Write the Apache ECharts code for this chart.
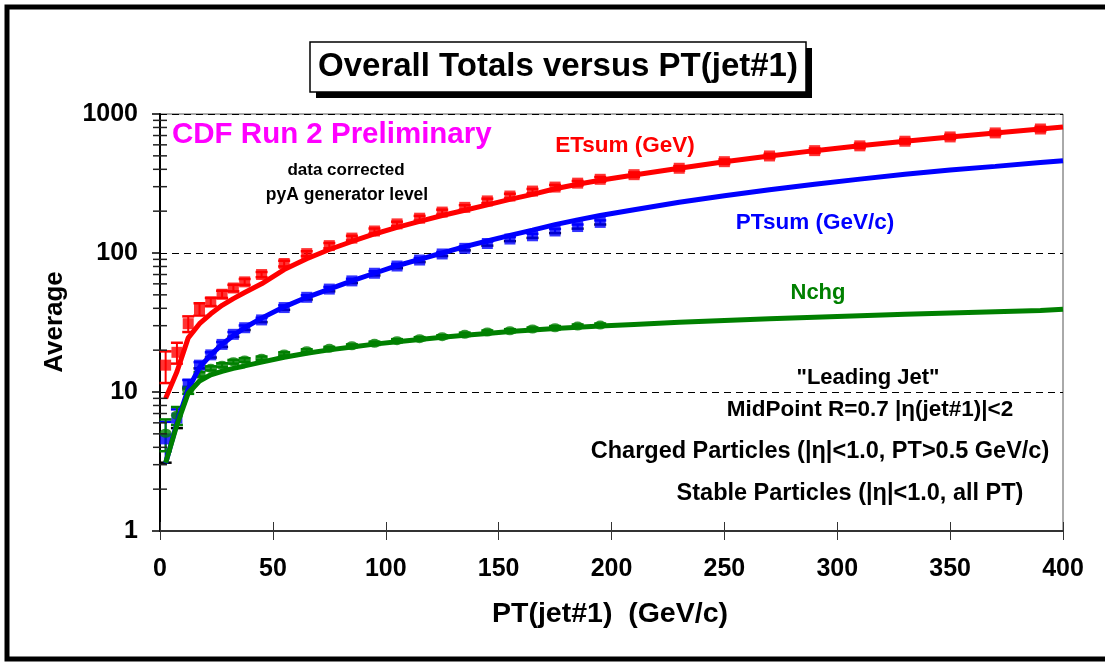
<!DOCTYPE html>
<html><head><meta charset="utf-8">
<script src="https://cdn.jsdelivr.net/npm/echarts/dist/echarts.min.js"></script>
<style>html,body{margin:0;padding:0;background:#fff}#c{width:1105px;height:663px}</style>
</head><body><div id="c"></div><script>
// PT(jet#1) bin centres (GeV/c)
const ptBins = [2.5, 7.5, 12.5, 17.5, 22.5, 27.5, 32.5, 37.5, 45, 55, 65, 75, 85, 95, 105, 115, 125, 135, 145, 155, 165, 175, 185, 195, 210, 230, 250, 270, 290, 310, 330, 350, 370, 390];
// data (corrected)
const etsumData = [15.6, 19.3, 31, 39.5, 44.5, 50.5, 56, 62, 70, 84, 99, 113, 128, 144, 162, 178, 197, 213, 237, 257, 279, 298, 318, 339, 366, 407, 454, 499, 545, 590, 637, 684, 731, 780];
const etsumErr = [4, 3.3, 4, 4, 3, 3, 3, 3, 3, 4, 4, 5, 5, 6, 6, 7, 8, 8, 9, 10, 10, 11, 12, 13, 14, 15, 17, 18, 20, 22, 24, 25, 27, 29];
const ptsumData = [4.6, 6.5, 11.4, 15.6, 18.5, 22, 26, 29, 33, 40.5, 48, 55, 63, 71.5, 80.6, 89, 98.4, 108, 117, 126, 133, 144, 155, 166];
const ptsumErr = [1.5, 1.0, 0.8, 0.8, 0.8, 0.9, 1.0, 1.1, 1.2, 1.5, 1.7, 2, 2.2, 2.5, 2.8, 3, 3.3, 3.6, 4, 4.3, 4.6, 5, 5.3, 5.7];
const nchgData = [5.05, 6.8, 10.3, 13.4, 14.8, 15.6, 16.5, 17.0, 17.5, 18.8, 19.8, 20.6, 21.5, 22.4, 23.4, 24.2, 25.0, 26.0, 27.0, 27.6, 28.4, 29.0, 29.8, 30.3];
const nchgErr = [1.3, 1.0, 0.6, 0.5, 0.5, 0.5, 0.5, 0.5, 0.5, 0.5, 0.5, 0.5, 0.5, 0.6, 0.6, 0.6, 0.6, 0.7, 0.7, 0.7, 0.7, 0.8, 0.8, 0.8];
// pyA generator level curves
const curvePt = [2.5, 7.5, 12.5, 17.5, 22.5, 27.5, 32.5, 37.5, 45, 55, 65, 75, 85, 95, 105, 115, 125, 135, 145, 155, 165, 175, 185, 195, 210, 230, 250, 270, 290, 310, 330, 350, 370, 390, 400];
const etsumCurve = [9.0, 14, 24.5, 31, 36.5, 42, 47, 52, 60, 76, 91, 106, 121, 137, 153, 169, 186, 203, 222, 243, 264, 290, 312, 334, 364, 407, 454, 499, 545, 590, 637, 684, 731, 780, 805];
const ptsumCurve = [3.07, 6.0, 10.5, 15, 18.5, 22, 25.5, 29, 34, 41, 48, 55, 63, 71.5, 81, 90, 100, 111, 122, 134, 146, 160, 173, 186, 205, 232, 258, 285, 312, 340, 368, 395, 420, 447, 461];
const nchgCurve = [3.1, 5.8, 9.8, 12.0, 13.3, 14.1, 14.8, 15.4, 16.4, 17.8, 19.0, 20.1, 21.1, 22.1, 23.0, 23.9, 24.8, 25.6, 26.4, 27.2, 27.9, 28.6, 29.2, 29.8, 30.6, 31.7, 32.7, 33.6, 34.5, 35.4, 36.2, 37.0, 37.8, 38.6, 39.4];
// axes
const xMin = 0, xMax = 400, xStep = 50;
const yMin = 1, yMax = 1000;
const yMinorTicks = [2,3,4,5,6,7,8,9,20,30,40,50,60,70,80,90,200,300,400,500,600,700,800,900];

const FONT = '"Liberation Sans", Arial, sans-serif';
const RED = '#ff0000', BLUE = '#0000ff', GREEN = '#008000', MAG = '#ff00ff';

function pts(xs, ys) { return ys.map((v, i) => [xs[i], v]); }
function errs(xs, ys, es) { return ys.map((v, i) => [xs[i], v - es[i], v + es[i]]); }

function errRender(color, lowCap) {
  return function (params, api) {
    const x = api.value(0), lo = api.value(1), hi = api.value(2);
    const a = api.coord([x, lo]), b = api.coord([x, hi]);
    const w = 6;
    return { type: 'group', children: [
      { type: 'line', shape: { x1: a[0], y1: a[1], x2: b[0], y2: b[1] }, style: { stroke: color, lineWidth: 2 } },
      { type: 'line', shape: { x1: a[0] - w, y1: a[1], x2: a[0] + w, y2: a[1] }, style: { stroke: lowCap, lineWidth: 2.5 } },
      { type: 'line', shape: { x1: b[0] - w, y1: b[1], x2: b[0] + w, y2: b[1] }, style: { stroke: color, lineWidth: 2.5 } }
    ] };
  };
}

const chart = echarts.init(document.getElementById('c'), null, { renderer: 'canvas' });
const option = {
  backgroundColor: '#fff',
  animation: false,
  grid: { left: 160, right: 42, top: 114, bottom: 132, show: true, borderColor: '#555', borderWidth: 1 },
  xAxis: [{
    type: 'value', min: xMin, max: xMax, interval: xStep,
    axisLine: { show: true, lineStyle: { color: '#333', width: 2 } },
    axisTick: { show: true, inside: false, length: 9, lineStyle: { color: '#333', width: 1 } },
    axisLabel: { margin: 26, color: '#000', fontFamily: FONT, fontWeight: 'bold', fontSize: 25 },
    splitLine: { show: false }
  }, {
    type: 'value', min: xMin, max: xMax, interval: xStep, position: 'bottom',
    axisLine: { show: false },
    axisTick: { show: true, inside: true, length: 9, lineStyle: { color: '#333', width: 1 } },
    axisLabel: { show: false }, splitLine: { show: false }
  }],
  yAxis: {
    type: 'log', logBase: 10, min: yMin, max: yMax,
    axisLine: { show: true, lineStyle: { color: '#000', width: 2 } },
    axisTick: { show: true, inside: false, length: 8, lineStyle: { color: '#000', width: 1.5 } },
    axisLabel: { margin: 22, color: '#000', fontFamily: FONT, fontWeight: 'bold', fontSize: 25, formatter: v => String(Math.round(v)) },
    splitLine: { show: true, lineStyle: { color: '#000', type: [7, 5], width: 1 } }
  },
  series: [
    { type: 'custom', name: 'yminor', data: yMinorTicks.map(v => [xMin, v]), encode: { x: 0, y: 1 }, silent: true, z: 5,
      renderItem: (p, api) => { const c = api.coord([api.value(0), api.value(1)]);
        return { type: 'line', shape: { x1: c[0] - 7, y1: c[1], x2: c[0] + 7, y2: c[1] }, style: { stroke: '#222', lineWidth: 1.5 } }; } },
    { type: 'custom', name: 'ETsum err', data: errs(ptBins, etsumData, etsumErr), encode: { x: 0, y: [1, 2] }, renderItem: errRender(RED, RED), z: 3 },
    { type: 'scatter', name: 'ETsum', data: pts(ptBins, etsumData), symbol: 'rect', symbolSize: 11, itemStyle: { color: RED }, z: 3 },
    { type: 'custom', name: 'PTsum err', data: errs(ptBins, ptsumData, ptsumErr), encode: { x: 0, y: [1, 2] }, renderItem: errRender(BLUE, '#000'), z: 3 },
    { type: 'scatter', name: 'PTsum', data: pts(ptBins, ptsumData), symbol: 'rect', symbolSize: 11, itemStyle: { color: BLUE }, z: 3 },
    { type: 'custom', name: 'Nchg err', data: errs(ptBins, nchgData, nchgErr), encode: { x: 0, y: [1, 2] }, renderItem: errRender(GREEN, GREEN), z: 3 },
    { type: 'scatter', name: 'Nchg', data: pts(ptBins, nchgData), symbol: 'circle', symbolSize: [12, 9], itemStyle: { color: GREEN }, z: 3 },
    { type: 'line', name: 'ETsum pyA', data: pts(curvePt, etsumCurve), showSymbol: false, lineStyle: { color: RED, width: 5 }, z: 4 },
    { type: 'line', name: 'PTsum pyA', data: pts(curvePt, ptsumCurve), showSymbol: false, lineStyle: { color: BLUE, width: 5 }, z: 4 },
    { type: 'line', name: 'Nchg pyA', data: pts(curvePt, nchgCurve), showSymbol: false, lineStyle: { color: GREEN, width: 5 }, z: 4 }
  ],
  graphic: [
    { type: 'rect', shape: { x: 7, y: 7, width: 1120, height: 652 }, style: { fill: 'none', stroke: '#000', lineWidth: 5 }, z: 100 },
    { type: 'rect', shape: { x: 316, y: 48, width: 496, height: 50 }, style: { fill: '#000' }, z: 100 },
    { type: 'rect', shape: { x: 310, y: 42, width: 496, height: 50 }, style: { fill: '#fff', stroke: '#000', lineWidth: 1.5 }, z: 101 },
    { type: 'text', x: 558, y: 67, z: 102, style: { text: 'Overall Totals versus PT(jet#1)', font: 'bold 33px ' + FONT, fill: '#000', align: 'center', verticalAlign: 'middle' } },
    { type: 'text', x: 172, y: 135, z: 102, style: { text: 'CDF Run 2 Preliminary', font: 'bold 29.5px ' + FONT, fill: MAG, align: 'left', verticalAlign: 'middle' } },
    { type: 'text', x: 346, y: 170, z: 102, style: { text: 'data corrected', font: 'bold 17px ' + FONT, fill: '#000', align: 'center', verticalAlign: 'middle' } },
    { type: 'text', x: 347, y: 195, z: 102, style: { text: 'pyA generator level', font: 'bold 17.5px ' + FONT, fill: '#000', align: 'center', verticalAlign: 'middle' } },
    { type: 'text', x: 625, y: 146, z: 102, style: { text: 'ETsum (GeV)', font: 'bold 22.5px ' + FONT, fill: RED, align: 'center', verticalAlign: 'middle' } },
    { type: 'text', x: 815, y: 223, z: 102, style: { text: 'PTsum (GeV/c)', font: 'bold 22.5px ' + FONT, fill: BLUE, align: 'center', verticalAlign: 'middle' } },
    { type: 'text', x: 818, y: 293, z: 102, style: { text: 'Nchg', font: 'bold 22px ' + FONT, fill: GREEN, align: 'center', verticalAlign: 'middle' } },
    { type: 'text', x: 868, y: 378, z: 102, style: { text: '"Leading Jet"', font: 'bold 22px ' + FONT, fill: '#000', align: 'center', verticalAlign: 'middle' } },
    { type: 'text', x: 870, y: 410, z: 102, style: { text: 'MidPoint R=0.7 |η(jet#1)|<2', font: 'bold 22.5px ' + FONT, fill: '#000', align: 'center', verticalAlign: 'middle' } },
    { type: 'text', x: 820, y: 452, z: 102, style: { text: 'Charged Particles (|η|<1.0, PT>0.5 GeV/c)', font: 'bold 23.5px ' + FONT, fill: '#000', align: 'center', verticalAlign: 'middle' } },
    { type: 'text', x: 850, y: 494, z: 102, style: { text: 'Stable Particles (|η|<1.0, all PT)', font: 'bold 23.5px ' + FONT, fill: '#000', align: 'center', verticalAlign: 'middle' } },
    { type: 'text', x: 610, y: 614, z: 102, style: { text: 'PT(jet#1)  (GeV/c)', font: 'bold 28.5px ' + FONT, fill: '#000', align: 'center', verticalAlign: 'middle' } },
    { type: 'text', x: 55, y: 322, rotation: Math.PI / 2, z: 102, style: { text: 'Average', font: 'bold 26px ' + FONT, fill: '#000', align: 'center', verticalAlign: 'middle' } }
  ]
};
chart.setOption(option);
</script></body></html>
